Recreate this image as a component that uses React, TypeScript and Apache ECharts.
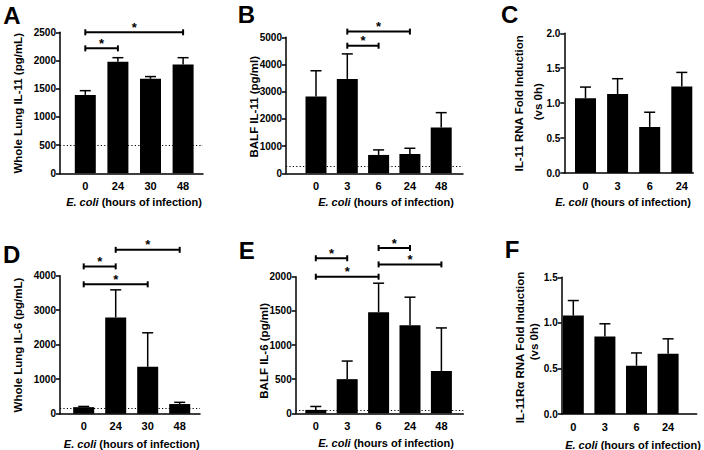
import React, { useEffect, useRef } from "react";
import * as echarts from "echarts";

// ---------- DATA ----------
const catsA = ["0", "24", "30", "48"];
const meanA = [1390, 1980, 1675, 1930];
const errA = [75, 70, 40, 120];
const sigA = [[0, 3, 2500], [0, 1, 2215]];
const lodA = 500;

const catsB = ["0", "3", "6", "24", "48"];
const meanB = [2820, 3470, 675, 710, 1680];
const errB = [950, 920, 185, 210, 550];
const sigB = [[1, 3, 5210], [1, 2, 4690]];
const lodB = 250;

const catsC = ["0", "3", "6", "24"];
const meanC = [1.07, 1.13, 0.66, 1.24];
const errC = [0.16, 0.22, 0.21, 0.2];

const catsD = ["0", "24", "30", "48"];
const meanD = [190, 2790, 1360, 280];
const errD = [20, 800, 985, 50];
const sigD = [[1, 3, 4750], [0, 1, 4270], [0, 2, 3750]];
const lodD = 150;

const catsE = ["0", "3", "6", "24", "48"];
const meanE = [50, 500, 1480, 1290, 620];
const errE = [50, 265, 425, 410, 630];
const sigE = [[2, 3, 2420], [0, 1, 2270], [2, 4, 2180], [0, 2, 2000]];
const lodE = 40;

const catsF = ["0", "3", "6", "24"];
const meanF = [1.08, 0.85, 0.53, 0.66];
const errF = [0.165, 0.14, 0.14, 0.165];

const FONT = 'Arial, "Liberation Sans", Helvetica, sans-serif';

type Panel = {
  letter: string;
  cats: string[];
  mean: number[];
  err: number[];
  sig: number[][];
  lod: number | null;
  yMax: number;
  yInt: number;
  dec: number;
  yTitle: string[];
  layout: {
    xL: number; xR: number; yT: number; yB: number; c0: number; s: number;
    letterX: number; letterY: number;
    xtX: number; xtY: number;
    ytX: number[]; ytY: number[];
  };
};

const panels: Panel[] = [
  {
    letter: "A", cats: catsA, mean: meanA, err: errA, sig: sigA, lod: lodA,
    yMax: 2500, yInt: 500, dec: 0, yTitle: ["Whole Lung IL-11 (pg/mL)"],
    layout: { xL: 60, xR: 203, yT: 32.3, yB: 173.3, c0: 85.3, s: 32.6,
      letterX: 12, letterY: 15, xtX: 134, xtY: 202, ytX: [18], ytY: [103.3] },
  },
  {
    letter: "B", cats: catsB, mean: meanB, err: errB, sig: sigB, lod: lodB,
    yMax: 5000, yInt: 1000, dec: 0, yTitle: ["BALF IL-11 (pg/ml)"],
    layout: { xL: 286, xR: 463, yT: 37.3, yB: 173.3, c0: 316, s: 31.3,
      letterX: 246.3, letterY: 14.7, xtX: 386, xtY: 202.3, ytX: [254], ytY: [106.7] },
  },
  {
    letter: "C", cats: catsC, mean: meanC, err: errC, sig: [], lod: null,
    yMax: 2, yInt: 0.5, dec: 1, yTitle: ["IL-11 RNA Fold Induction", "(vs 0h)"],
    layout: { xL: 564.3, xR: 693.3, yT: 33.3, yB: 173, c0: 585.5, s: 32.1,
      letterX: 509.7, letterY: 14.7, xtX: 623, xtY: 201.7, ytX: [519, 537.5], ytY: [103.3, 101.7] },
  },
  {
    letter: "D", cats: catsD, mean: meanD, err: errD, sig: sigD, lod: lodD,
    yMax: 4000, yInt: 1000, dec: 0, yTitle: ["Whole Lung IL-6 (pg/mL)"],
    layout: { xL: 60, xR: 200, yT: 275.7, yB: 413.7, c0: 83.7, s: 32,
      letterX: 11.7, letterY: 254.5, xtX: 131.7, xtY: 444, ytX: [18], ytY: [345] },
  },
  {
    letter: "E", cats: catsE, mean: meanE, err: errE, sig: sigE, lod: lodE,
    yMax: 2000, yInt: 500, dec: 0, yTitle: ["BALF IL-6 (pg/ml)"],
    layout: { xL: 295.7, xR: 463.3, yT: 276.7, yB: 413.3, c0: 315.8, s: 31.4,
      letterX: 246.7, letterY: 250, xtX: 386, xtY: 443.3, ytX: [263.5], ytY: [350.8] },
  },
  {
    letter: "F", cats: catsF, mean: meanF, err: errF, sig: [], lod: null,
    yMax: 1.5, yInt: 0.5, dec: 1, yTitle: ["IL-11R\u03b1 RNA Fold Induction", "(vs 0h)"],
    layout: { xL: 561.7, xR: 696.7, yT: 277.3, yB: 414, c0: 573.3, s: 31.6,
      letterX: 512, letterY: 249, xtX: 633, xtY: 445, ytX: [519.7, 534], ytY: [347.5, 341.7] },
  },
];

function buildOption() {
  const grid: any[] = [];
  const xAxis: any[] = [];
  const yAxis: any[] = [];
  const series: any[] = [];
  const graphic: any[] = [];
  const axisLineStyle = { color: "#000", width: 1.5 };

  panels.forEach((p, i) => {
    const L = p.layout;
    grid.push({ left: L.xL, top: L.yT, width: L.xR - L.xL, height: L.yB - L.yT, containLabel: false });
    const cats = p.cats;
    xAxis.push({
      gridIndex: i, type: "value",
      min: (L.xL - L.c0) / L.s, max: (L.xR - L.c0) / L.s,
      axisLine: { show: true, onZero: false, lineStyle: axisLineStyle },
      axisTick: { show: false },
      splitLine: { show: false },
      axisLabel: {
        customValues: cats.map((_, k) => k),
        formatter: (v: number) => (Number.isInteger(v) && cats[v] !== undefined ? cats[v] : ""),
        color: "#000", fontWeight: "bold", fontSize: 11, fontFamily: FONT, margin: 7,
        showMinLabel: true, showMaxLabel: true, hideOverlap: false,
      },
    });
    yAxis.push({
      gridIndex: i, type: "value", min: 0, max: p.yMax, interval: p.yInt,
      axisLine: { show: true, onZero: false, lineStyle: axisLineStyle },
      axisTick: { show: true, inside: false, length: 4, lineStyle: { color: "#000", width: 1.5 } },
      splitLine: { show: false },
      axisLabel: {
        formatter: (v: number) => v.toFixed(p.dec),
        color: "#000", fontWeight: "bold", fontSize: 10, fontFamily: FONT, margin: 4,
      },
    });

    const bar: any = {
      type: "bar", xAxisIndex: i, yAxisIndex: i, silent: true,
      data: p.mean.map((m, k) => [k, m]),
      barWidth: 21, itemStyle: { color: "#000" },
    };
    if (p.lod !== null) {
      bar.markLine = {
        symbol: "none", silent: true, label: { show: false },
        lineStyle: { type: [1.2, 2.2], color: "#000", width: 1 },
        data: [{ yAxis: p.lod }],
      };
    }
    series.push(bar);

    series.push({
      type: "custom", xAxisIndex: i, yAxisIndex: i, silent: true, clip: false,
      encode: { x: 0, y: [1, 2] },
      data: p.mean.map((m, k) => [k, m, m + p.err[k]]),
      renderItem: (params: any, api: any) => {
        const x = api.value(0);
        const a = api.coord([x, api.value(1)]);
        const b = api.coord([x, api.value(2)]);
        const hw = 5.5;
        return {
          type: "group",
          children: [
            { type: "line", shape: { x1: a[0], y1: a[1], x2: b[0], y2: b[1] }, style: { stroke: "#000", lineWidth: 1.5 } },
            { type: "line", shape: { x1: b[0] - hw, y1: b[1], x2: b[0] + hw, y2: b[1] }, style: { stroke: "#000", lineWidth: 1.5 } },
          ],
        };
      },
    });

    if (p.sig.length) {
      series.push({
        type: "custom", xAxisIndex: i, yAxisIndex: i, silent: true, clip: false,
        encode: { x: [0, 1], y: 2 },
        data: p.sig,
        renderItem: (params: any, api: any) => {
          const y = api.value(2);
          const a = api.coord([api.value(0), y]);
          const b = api.coord([api.value(1), y]);
          const t = 3;
          return {
            type: "group",
            children: [
              { type: "line", shape: { x1: a[0], y1: a[1], x2: b[0], y2: b[1] }, style: { stroke: "#000", lineWidth: 2 } },
              { type: "line", shape: { x1: a[0], y1: a[1] - t, x2: a[0], y2: a[1] + t }, style: { stroke: "#000", lineWidth: 2 } },
              { type: "line", shape: { x1: b[0], y1: b[1] - t, x2: b[0], y2: b[1] + t }, style: { stroke: "#000", lineWidth: 2 } },
              {
                type: "text", x: (a[0] + b[0]) / 2, y: a[1] - 5,
                style: {
                  text: "*", font: `bold 13px ${FONT}`, fill: "#000",
                  align: "center", verticalAlign: "middle", textAlign: "center", textVerticalAlign: "middle",
                },
              },
            ],
          };
        },
      });
    }

    graphic.push({
      type: "text", x: L.letterX, y: L.letterY, silent: true,
      style: {
        text: p.letter, font: `bold 24px ${FONT}`, fill: "#000",
        align: "center", verticalAlign: "middle", textAlign: "center", textVerticalAlign: "middle",
      },
    });
    graphic.push({
      type: "text", x: L.xtX, y: L.xtY, silent: true,
      style: {
        text: "{i|E. coli} (hours of infection)",
        rich: { i: { fontStyle: "italic", fontWeight: "bold", fontSize: 11, fontFamily: FONT, fill: "#000" } },
        font: `bold 11px ${FONT}`, fill: "#000",
        align: "center", verticalAlign: "middle", textAlign: "center", textVerticalAlign: "middle",
      },
    });
    p.yTitle.forEach((t, k) => {
      graphic.push({
        type: "text", x: L.ytX[k], y: L.ytY[k], rotation: Math.PI / 2, silent: true,
        style: {
          text: t, font: `bold 11.5px ${FONT}`, fill: "#000",
          align: "center", verticalAlign: "middle", textAlign: "center", textVerticalAlign: "middle",
        },
      });
    });
  });

  return {
    animation: false,
    backgroundColor: "#fff",
    textStyle: { fontFamily: FONT },
    grid, xAxis, yAxis, series, graphic,
  };
}

export default function App() {
  const ref = useRef<HTMLDivElement>(null);
  useEffect(() => {
    if (!ref.current) return;
    const chart = echarts.init(ref.current, undefined, { renderer: "svg" });
    chart.setOption(buildOption());
    return () => chart.dispose();
  }, []);
  return (
    <div
      ref={ref}
      style={{ position: "fixed", left: 0, top: 0, width: 704, height: 450, background: "#fff" }}
    />
  );
}
